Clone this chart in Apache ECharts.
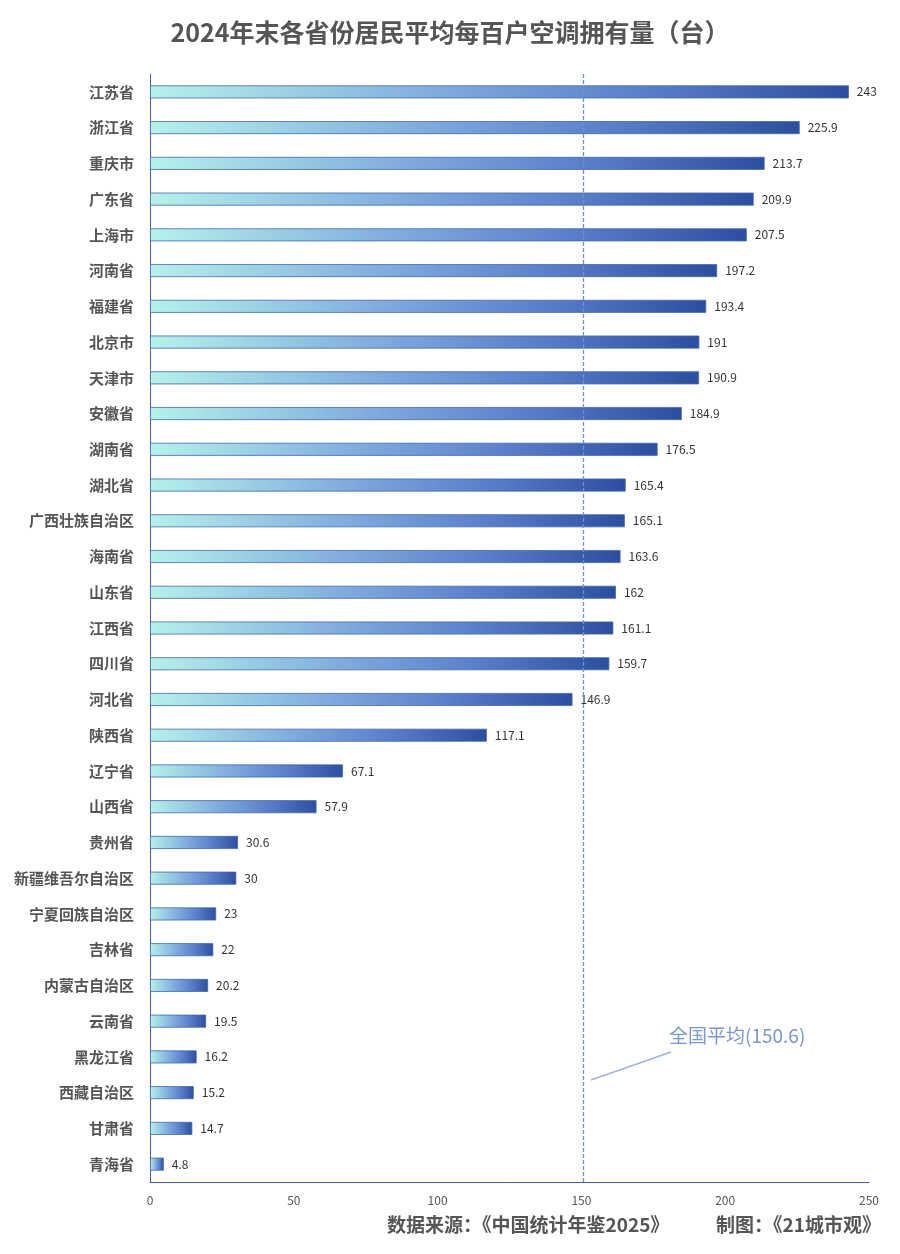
<!DOCTYPE html>
<html>
<head>
<meta charset="utf-8">
<script src="https://cdn.jsdelivr.net/npm/echarts@6/dist/echarts.min.js"></script>
<style>
  html, body { margin: 0; padding: 0; background: #fff; }
  #chart { width: 900px; height: 1254px; }
</style>
</head>
<body>
<div id="chart"></div>
<script>
// 数据（从上到下）
var provinces = ['江苏省', '浙江省', '重庆市', '广东省', '上海市', '河南省', '福建省', '北京市',
  '天津市', '安徽省', '湖南省', '湖北省', '广西壮族自治区', '海南省', '山东省', '江西省',
  '四川省', '河北省', '陕西省', '辽宁省', '山西省', '贵州省', '新疆维吾尔自治区', '宁夏回族自治区',
  '吉林省', '内蒙古自治区', '云南省', '黑龙江省', '西藏自治区', '甘肃省', '青海省'];
var values = [243, 225.9, 213.7, 209.9, 207.5, 197.2, 193.4, 191, 190.9, 184.9, 176.5, 165.4,
  165.1, 163.6, 162, 161.1, 159.7, 146.9, 117.1, 67.1, 57.9, 30.6, 30, 23, 22, 20.2, 19.5,
  16.2, 15.2, 14.7, 4.8];
var nationalAvg = 150.6;
var xTicks = [0, 50, 100, 150, 200, 250];

var font = '"Noto Sans CJK SC", "Noto Sans", sans-serif';
var chart = echarts.init(document.getElementById('chart'));

var barColor = new echarts.graphic.LinearGradient(0, 0, 1, 0, [
  { offset: 0, color: '#b6f1ea' },
  { offset: 0.45, color: '#7ba6dc' },
  { offset: 0.7, color: '#5b80cb' },
  { offset: 1, color: '#2c4e9f' }
]);

var option = {
  backgroundColor: '#fff',
  animation: false,
  title: {
    text: '2024年末各省份居民平均每百户空调拥有量（台）',
    left: 'center',
    top: 15,
    textStyle: { fontFamily: font, fontSize: 25, fontWeight: 'bold', color: '#555' }
  },
  grid: { left: 150, right: 31, top: 74, bottom: 72 },
  xAxis: {
    type: 'value',
    min: xTicks[0],
    max: xTicks[xTicks.length - 1],
    interval: 50,
    splitLine: { show: false },
    axisLine: { show: true, lineStyle: { color: '#3f62aa', width: 1 } },
    axisTick: { show: false },
    axisLabel: { color: '#555', fontSize: 12, fontFamily: font, margin: 12 }
  },
  yAxis: {
    type: 'category',
    data: provinces,
    inverse: true,
    axisLine: { show: true, lineStyle: { color: '#3f62aa', width: 1 } },
    axisTick: { show: false },
    axisLabel: { color: '#555', fontSize: 15, fontWeight: 'bold', fontFamily: font, margin: 16 }
  },
  series: [{
    type: 'bar',
    data: values,
    barWidth: 13,
    itemStyle: { color: barColor, borderColor: '#4468ad', borderWidth: 0.8 },
    label: {
      show: true,
      position: 'right',
      distance: 8,
      color: '#333',
      fontSize: 12,
      fontFamily: font
    },
    markLine: {
      silent: true,
      symbol: 'none',
      label: { show: false },
      lineStyle: { color: '#6f8fd0', type: [4, 2], width: 1.3 },
      data: [{ xAxis: nationalAvg }]
    }
  }],
  graphic: [
    {
      type: 'line',
      shape: { x1: 591, y1: 1080, x2: 671, y2: 1052 },
      style: { stroke: '#9fb3dc', lineWidth: 1.5 }
    },
    {
      type: 'text',
      left: 669,
      top: 1026,
      style: {
        text: '全国平均(' + nationalAvg + ')',
        fill: '#7b97cf',
        font: '19px ' + font
      }
    },
    {
      type: 'text',
      left: 387,
      top: 1215,
      style: {
        text: '数据来源：《中国统计年鉴2025》',
        fill: '#555',
        font: 'bold 19px ' + font
      }
    },
    {
      type: 'text',
      left: 716,
      top: 1215,
      style: {
        text: '制图：《21城市观》',
        fill: '#555',
        font: 'bold 19px ' + font
      }
    }
  ]
};

chart.setOption(option);
</script>
</body>
</html>
